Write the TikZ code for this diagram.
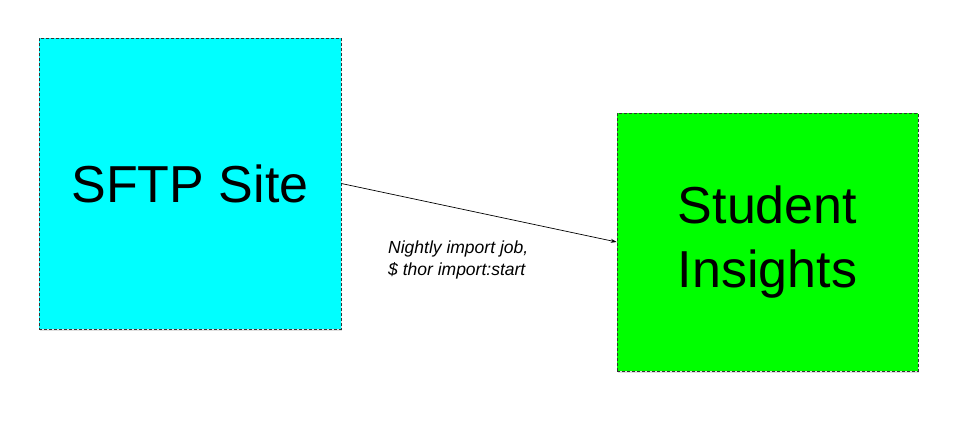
\documentclass[tikz,border=0pt]{standalone}
\usepackage{fontspec}
\setmainfont{Liberation Sans}
\usetikzlibrary{arrows.meta,shadows}
\definecolor{boxcyan}{HTML}{00FFFF}
\definecolor{boxgreen}{HTML}{00FF00}
\begin{document}
\begin{tikzpicture}[x=1pt,y=-1pt,
  box/.style={draw=black!80, line width=0.7pt, dash pattern=on 3pt off 2pt,
    inner sep=0pt, align=center, font=\fontsize{52}{64}\selectfont,
    drop shadow={opacity=0.25, shadow xshift=1pt, shadow yshift=-1.5pt}},
  conn/.style={draw=black, line width=0.7pt, -{Stealth[length=6pt,width=4pt]}},
  lbl/.style={align=left, inner sep=0pt, font=\fontsize{17.5}{22}\selectfont\itshape}]
\useasboundingbox (0,0) rectangle (959,421);
\node[box, fill=boxcyan, minimum width=302pt, minimum height=291pt] (sftp) at (190,183.5) {SFTP Site};
\node[box, fill=boxgreen, minimum width=301pt, minimum height=258pt] (si) at (767.5,242) {Student\\Insights};
\draw[conn] (sftp.east) -- (si.west);
\node[lbl, anchor=base west] (job) at (388,275) {Nightly import job,\\\$ thor import:start};
\end{tikzpicture}
\end{document}
